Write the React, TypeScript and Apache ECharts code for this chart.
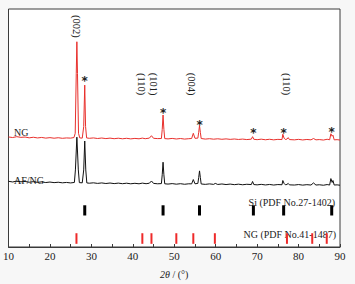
import React, { useEffect, useRef } from "react";
import * as echarts from "echarts";

// 2θ (°) vs offset intensity (arbitrary units, stacked)
const ngPattern: [number, number][] = [
  [10, 114.2], [11, 113.6], [12, 114.5], [13, 113.8], [14, 114.1], [15, 113.3], [16, 113.9], [17, 113.2],
  [18, 113.7], [19, 113.0], [20, 113.5], [21, 112.9], [22, 113.4], [23, 112.8], [24, 113.2], [25, 113.0],
  [25.8, 113.6], [26.1, 118], [26.35, 180], [26.5, 213], [26.65, 180], [26.9, 118], [27.2, 113.2],
  [27.8, 113.0], [28.15, 125], [28.4, 168], [28.6, 125], [28.85, 113.2], [29.5, 112.8], [30.5, 113.2],
  [31.5, 112.6], [32.5, 113.1], [33.5, 112.5], [34.5, 113.0], [35.5, 112.4], [36.5, 112.9], [37.5, 112.3],
  [38.5, 112.8], [39.5, 112.2], [40.5, 112.7], [41.5, 112.3], [42.3, 113.0], [43.0, 112.4], [44.0, 113.0],
  [44.5, 115.5], [45.0, 112.8], [46.0, 112.5], [46.9, 112.6], [47.1, 122], [47.3, 137], [47.5, 122],
  [47.7, 112.5], [48.5, 112.2], [49.5, 112.7], [50.5, 112.1], [51.5, 112.6], [52.5, 112.0], [53.5, 112.4],
  [54.2, 112.6], [54.6, 118], [55.0, 112.8], [55.7, 113], [55.9, 119], [56.1, 126], [56.3, 119],
  [56.5, 112.6], [57.5, 112.0], [58.5, 112.4], [59.5, 111.9], [60.5, 112.3], [61.5, 111.8], [62.5, 112.2],
  [63.5, 111.7], [64.5, 112.1], [65.5, 111.6], [66.5, 112.0], [67.5, 111.5], [68.6, 111.9], [68.9, 114.5],
  [69.2, 111.8], [70, 111.4], [71, 111.9], [72, 111.3], [73, 111.8], [74, 111.2], [75, 111.7], [76.0, 111.5],
  [76.2, 117], [76.5, 113], [76.8, 111.6], [77.2, 112], [77.5, 113.5], [77.8, 111.5], [79, 111.2],
  [80, 111.7], [81, 111.1], [82, 111.6], [83, 111.2], [83.6, 112.6], [84.2, 111.2], [85, 111.5], [86, 111.0],
  [86.9, 111.8], [87.5, 111.3], [87.8, 117.5], [88.1, 115], [88.3, 116], [88.6, 111.2], [89.3, 111.4], [90, 111.0],
];

const afngPattern: [number, number][] = [
  [10, 68.2], [11, 67.5], [12, 68.4], [13, 67.7], [14, 68.0], [15, 67.2], [16, 67.8], [17, 67.1],
  [18, 67.6], [19, 66.9], [20, 67.4], [21, 66.8], [22, 67.2], [23, 66.6], [24, 67.0], [25, 66.5],
  [25.9, 67], [26.15, 80], [26.5, 114], [26.85, 80], [27.1, 66.8], [27.8, 66.6], [28.15, 80], [28.4, 110],
  [28.65, 80], [28.9, 66.5], [29.5, 66.2], [30.5, 66.6], [31.5, 66.0], [32.5, 66.5], [33.5, 65.9],
  [34.5, 66.4], [35.5, 65.8], [36.5, 66.3], [37.5, 65.7], [38.5, 66.2], [39.5, 65.6], [40.5, 66.1],
  [41.5, 65.6], [42.3, 66.3], [43.2, 65.7], [44.0, 66.2], [44.5, 68.5], [45.0, 66.0], [46.0, 65.6],
  [46.9, 65.8], [47.1, 75], [47.3, 88], [47.5, 75], [47.7, 65.6], [48.5, 65.3], [49.5, 65.8], [50.5, 65.2],
  [51.5, 65.7], [52.5, 65.1], [53.5, 65.6], [54.2, 65.5], [54.6, 70], [55.0, 65.6], [55.7, 66], [55.9, 72],
  [56.1, 79], [56.3, 72], [56.5, 65.4], [57.5, 65.0], [58.5, 65.5], [59.5, 65.0], [59.9, 66], [60.5, 64.9],
  [61.5, 65.4], [62.5, 64.8], [63.5, 65.3], [64.5, 64.7], [65.5, 65.2], [66.5, 64.6], [67.5, 65.1],
  [68.6, 64.8], [68.9, 68], [69.2, 64.8], [70, 64.5], [71, 65.0], [72, 64.4], [73, 64.9], [74, 64.3],
  [75, 64.8], [76.0, 64.6], [76.2, 69], [76.5, 66], [76.8, 64.6], [77.2, 64.9], [77.5, 66], [77.8, 64.5],
  [79, 64.3], [80, 64.8], [81, 64.2], [82, 64.7], [83, 64.3], [83.6, 66.5], [84.2, 64.3], [85, 64.6],
  [86, 64.1], [86.9, 64.8], [87.5, 64.3], [87.8, 71], [88.1, 67], [88.3, 69], [88.6, 64.3], [89.3, 64.5],
  [90, 64.1],
];

const siPeaks = [28.4, 47.3, 56.1, 69.1, 76.4, 88.0];
const asteriskY = [175.3, 142, 130, 121, 121, 122];
const graphitePeaks = [26.4, 42.3, 44.5, 50.5, 54.6, 59.8, 77.2, 83.3, 86.8];

const peakLabels = ["(002)", "(110)", "(101)", "(004)", "(110)"];
const peakLabelX = [26.5, 42.2, 45.0, 54.1, 77.0];
const peakLabelY = [229, 169, 169, 169, 169];

const xTicks = [10, 20, 30, 40, 50, 60, 70, 80, 90];

const SERIF = "'Liberation Serif', 'Times New Roman', serif";
const RED = "#e8302c";
const SI_RANGE = [32.7, 43.3];
const NG_RANGE = [3.3, 14.3];

function stickSeries(xs: number[], range: number[], width: number, color: string) {
  return {
    type: "custom",
    silent: true,
    clip: false,
    data: xs.map((x) => [x, range[1]]),
    renderItem: (_p: any, api: any) => {
      const x = api.value(0);
      const top = api.coord([x, range[1]]);
      const bot = api.coord([x, range[0]]);
      return {
        type: "rect",
        shape: { x: top[0] - width / 2, y: top[1], width, height: bot[1] - top[1] },
        style: { fill: color },
      };
    },
  };
}

export default function App() {
  const ref = useRef<HTMLDivElement>(null);
  useEffect(() => {
    if (!ref.current) return;
    const chart = echarts.init(ref.current, undefined, { renderer: "svg" });
    chart.setOption({
      animation: false,
      backgroundColor: "#f7f7f7",
      grid: {
        left: 7, right: 15, top: 9, bottom: 28,
        show: true, backgroundColor: "#ffffff", borderColor: "#3a3a3a", borderWidth: 1,
      },
      xAxis: {
        type: "value", min: 10, max: 90, interval: 10,
        axisLine: { show: true, lineStyle: { color: "#3a3a3a", width: 1 } },
        axisTick: { show: true, inside: true, length: 3, lineStyle: { color: "#3a3a3a" } },
        minorTick: { show: true, splitNumber: 2, length: 3, lineStyle: { color: "#3a3a3a" } },
        splitLine: { show: false },
        axisLabel: {
          color: "#222", fontFamily: SERIF, fontSize: 11, margin: 3,
          formatter: (v: number) => (xTicks.includes(v) ? String(v) : ""),
        },
        name: "{i|2θ} / (°)",
        nameLocation: "middle",
        nameGap: 22,
        nameTextStyle: {
          color: "#222", fontFamily: SERIF, fontSize: 10,
          rich: { i: { fontStyle: "italic", fontFamily: SERIF, fontSize: 10, color: "#222" } },
        },
      },
      yAxis: { type: "value", min: 0, max: 247, show: false },
      series: [
        {
          type: "line", data: afngPattern, showSymbol: false, silent: true,
          lineStyle: { color: "#111", width: 1 },
        },
        {
          type: "line", data: ngPattern, showSymbol: false, silent: true,
          lineStyle: { color: RED, width: 1 },
        },
        stickSeries(siPeaks, SI_RANGE, 3, "#000"),
        stickSeries(graphitePeaks, NG_RANGE, 2, "#ee2a2a"),
        {
          type: "custom", silent: true, clip: false,
          data: siPeaks.map((x, i) => [x, asteriskY[i]]),
          renderItem: (_p: any, api: any) => {
            const pt = api.coord([api.value(0), api.value(1)]);
            return {
              type: "text", x: pt[0], y: pt[1] + 3,
              style: {
                text: "*", fill: "#222", align: "center", verticalAlign: "middle",
                font: "bold 12px 'DejaVu Sans', sans-serif",
              },
            };
          },
        },
        {
          type: "custom", silent: true, clip: false,
          data: peakLabelX.map((x, i) => [x, peakLabelY[i]]),
          renderItem: (p: any, api: any) => {
            const pt = api.coord([api.value(0), api.value(1)]);
            return {
              type: "text", x: pt[0], y: pt[1], rotation: -Math.PI / 2,
              style: {
                text: peakLabels[p.dataIndex], fill: "#222", align: "center", verticalAlign: "middle",
                font: `10.5px ${SERIF}`,
              },
            };
          },
        },
      ],
      graphic: [
        { type: "text", left: 14, top: 127, style: { text: "NG", font: `10px ${SERIF}`, fill: "#222" } },
        { type: "text", left: 14, top: 175, style: { text: "AF/NG", font: `10px ${SERIF}`, fill: "#222" } },
        { type: "text", right: 20, top: 197, style: { text: "Si (PDF No.27-1402)", font: `10px ${SERIF}`, fill: "#222" } },
        { type: "text", right: 19, top: 229, style: { text: "NG (PDF No.41-1487)", font: `10px ${SERIF}`, fill: "#222" } },
      ],
    });
    return () => chart.dispose();
  }, []);
  return (
    <div
      ref={ref}
      style={{ position: "fixed", left: 0, top: 0, width: 355, height: 284 }}
    />
  );
}
